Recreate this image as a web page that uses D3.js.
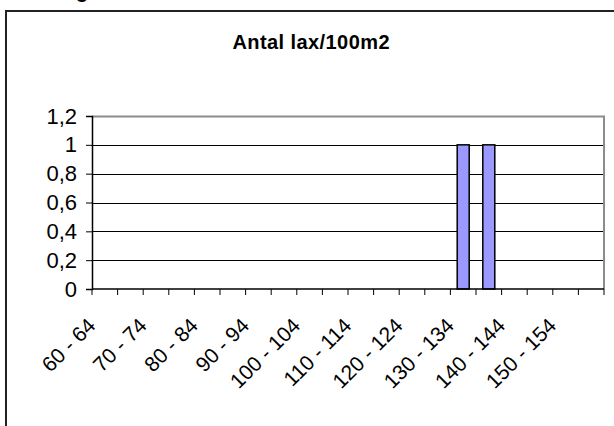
<!DOCTYPE html>
<html>
<head>
<meta charset="utf-8">
<script src="https://cdn.jsdelivr.net/npm/d3@7"></script>
<style>
  html, body { margin: 0; padding: 0; background: #fff; }
  svg { display: block; font-family: Arial, "Liberation Sans", sans-serif; }
</style>
</head>
<body>
<svg width="614" height="426"></svg>
<script>
// chart data
const title = "Antal lax/100m2"
const categories = [
  "60 - 64", "65 - 69", "70 - 74", "75 - 79", "80 - 84", "85 - 89",
  "90 - 94", "95 - 99", "100 - 104", "105 - 109", "110 - 114", "115 - 119",
  "120 - 124", "125 - 129", "130 - 134", "135 - 139", "140 - 144", "145 - 149",
  "150 - 154", "155 - 159"
]
const values = [0, 0, 0, 0, 0, 0, 0, 0, 0, 0, 0, 0, 0, 0, 1, 1, 0, 0, 0, 0]
const yTicks = [0, 0.2, 0.4, 0.6, 0.8, 1, 1.2]

const svg = d3.select("svg")

const plot = { left: 92, right: 604, top: 116, bottom: 289 }

const x = d3.scaleBand()
  .domain(categories)
  .range([plot.left, plot.right])
  .paddingInner(0)
  .paddingOuter(0)

const y = d3.scaleLinear()
  .domain([0, 1.2])
  .range([plot.bottom, plot.top])

const fmt = (d) => String(d).replace(".", ",")

// cut-off heading descender above the chart frame
svg.append("text")
  .attr("x", 76).attr("y", -2)
  .attr("font-size", 20).attr("font-weight", "bold")
  .text("g")

// outer chart frame (continues past the picture's right and bottom edges)
svg.append("rect")
  .attr("x", 6).attr("y", 11)
  .attr("width", 640).attr("height", 440)
  .attr("fill", "none")
  .attr("stroke", "#222")
  .attr("stroke-width", 2)

// title
svg.append("text")
  .attr("x", 311).attr("y", 49)
  .attr("text-anchor", "middle")
  .attr("font-size", 20).attr("font-weight", "bold")
  .attr("textLength", 157)
  .text(title)

// gridlines
svg.append("g")
  .selectAll("line")
  .data(yTicks.filter(d => d > 0 && d < 1.2))
  .join("line")
    .attr("x1", plot.left).attr("x2", plot.right)
    .attr("y1", d => Math.round(y(d)) + 0.5)
    .attr("y2", d => Math.round(y(d)) + 0.5)
    .attr("stroke", "#000")

// plot area border top/right (gray)
svg.append("path")
  .attr("d", `M${plot.left},${plot.top + 0.5}H${plot.right}V${plot.bottom}`)
  .attr("fill", "none")
  .attr("stroke", "#8c8c8c")
  .attr("stroke-width", 2)

// bars
const barW = 12
svg.append("g")
  .selectAll("rect")
  .data(values.map((v, i) => ({ cat: categories[i], v })).filter(d => d.v > 0))
  .join("rect")
    .attr("x", d => x(d.cat) + x.bandwidth() / 2 - barW / 2)
    .attr("y", d => y(d.v))
    .attr("width", barW)
    .attr("height", d => y(0) - y(d.v))
    .attr("fill", "#9999ff")
    .attr("stroke", "#000")
    .attr("stroke-width", 1.5)

// y axis
const yAxis = svg.append("g")
  .attr("transform", `translate(${plot.left},0)`)
  .call(d3.axisLeft(y).tickValues(yTicks).tickFormat(fmt).tickSize(6).tickPadding(9))
yAxis.select(".domain").attr("stroke", "#000").attr("stroke-width", 1.5)
yAxis.selectAll(".tick line").attr("stroke", "#000")
yAxis.selectAll("text").attr("font-size", 22).attr("fill", "#000")
  .attr("font-family", "Arial, 'Liberation Sans', sans-serif")

// x axis: ticks at category boundaries
const xAxisG = svg.append("g")
xAxisG.append("line")
  .attr("x1", plot.left).attr("x2", plot.right)
  .attr("y1", plot.bottom).attr("y2", plot.bottom)
  .attr("stroke", "#000").attr("stroke-width", 1.5)
xAxisG.selectAll("line.tick")
  .data(categories.concat(["end"]))
  .join("line")
    .attr("class", "tick")
    .attr("x1", (d, i) => i < categories.length ? x(d) : plot.right)
    .attr("x2", (d, i) => i < categories.length ? x(d) : plot.right)
    .attr("y1", plot.bottom).attr("y2", plot.bottom + 6)
    .attr("stroke", "#000")

// rotated labels, every other category
xAxisG.selectAll("text")
  .data(categories.filter((d, i) => i % 2 === 0))
  .join("text")
    .attr("text-anchor", "end")
    .attr("font-size", 21)
    .attr("transform", d => `translate(${x(d) + x.bandwidth() / 2 - 8},${plot.bottom + 38}) rotate(-45)`)
    .text(d => d)
</script>
</body>
</html>
